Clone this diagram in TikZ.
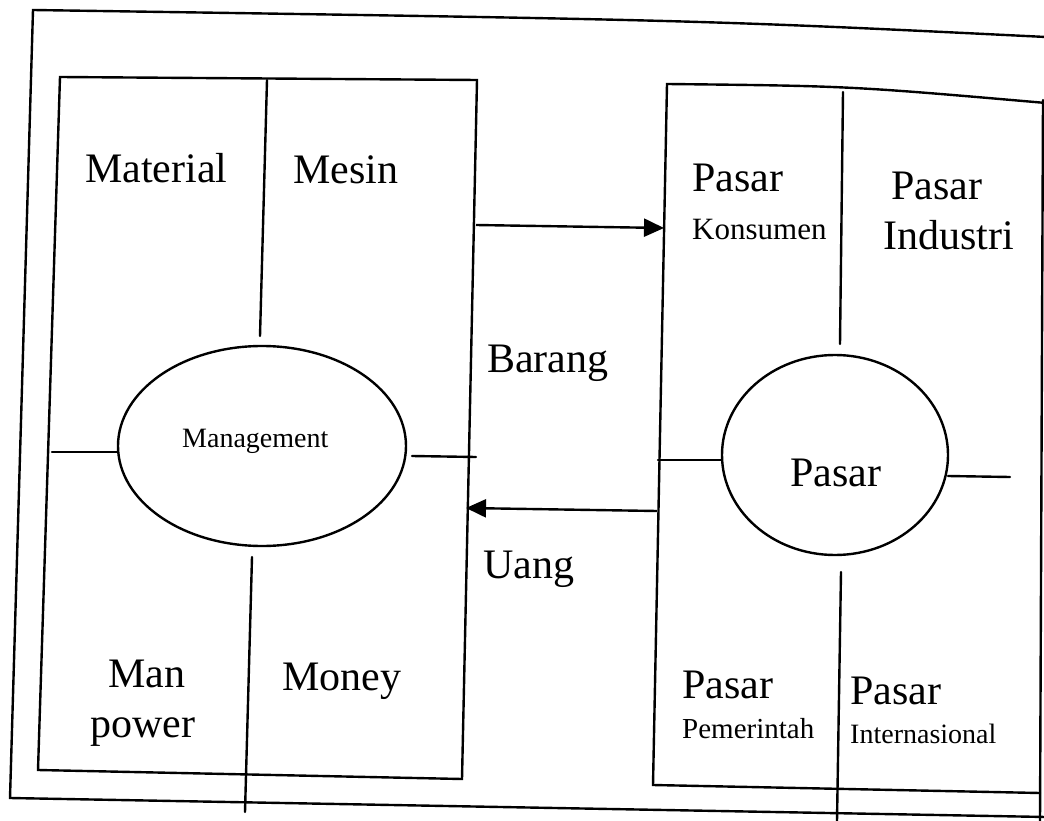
\documentclass[tikz,border=0pt]{standalone}
\usepackage{fontspec}
\setmainfont{Liberation Serif}
\usetikzlibrary{shapes.geometric,arrows.meta}
\begin{document}
\begin{tikzpicture}[x=1pt,y=-1pt,
  ln/.style={line width=2.4pt, line cap=round},
  big/.style={font=\fontsize{42}{44}\selectfont, inner sep=0pt, anchor=base west},
  small/.style={font=\fontsize{29}{31}\selectfont, inner sep=0pt, anchor=base west},
  oval/.style={ellipse, draw, line width=2.4pt, inner sep=0pt},
  arr/.style={line width=2.4pt, -{Triangle[length=20pt,width=18pt]}}
]
\useasboundingbox (0,0) rectangle (1044,821);
% outer frame
\coordinate (o1) at (1046,37);
\coordinate (o2) at (33,10);
\coordinate (o3) at (10,798);
\coordinate (o4) at (1046,817);
\draw[ln] (o1) .. controls (700,20) .. (o2) -- (o3) -- (o4);
% left box
\coordinate (l1) at (60,77);
\coordinate (l2) at (477,80);
\coordinate (l3) at (462,779);
\coordinate (l4) at (38,770);
\draw[ln] (l1) -- (l2) -- (l3) -- (l4) -- cycle;
% right box
\coordinate (r1) at (667,84);
\coordinate (r2) at (1046,103);
\coordinate (r3) at (1040,821);
\coordinate (r5) at (1043,100);
\coordinate (r4) at (653,785);
\coordinate (r6) at (1040,793);
\draw[ln] (r2) .. controls (850,86) .. (r1) -- (r4) -- (r6);
\draw[ln] (r5) -- (r3);
% management ellipse
\node[oval, minimum width=288pt, minimum height=200pt] (mg) at (262,446) {};
\node[small, font=\fontsize{28}{30}\selectfont] (mgt) at (182,447) {Management};
\coordinate (lv1) at (267,80);
\coordinate (lv2) at (260,336);
\coordinate (lv3) at (252,557);
\coordinate (lv4) at (245,812);
\coordinate (lh1) at (52,452);
\coordinate (lh2) at (412,456);
\coordinate (lh3) at (476,457);
\draw[ln] (lv1) -- (lv2);
\draw[ln] (lv3) -- (lv4);
\draw[ln] (lh1) -- (lh1 -| mg.west);
\draw[ln] (lh2) -- (lh3);
% texts left
\node[big] (mat) at (85,183) {Material};
\node[big] (mes) at (293,184) {Mesin};
\node[big] (man) at (108,687) {Man};
\node[big] (pow) at (90,737) {power};
\node[big] (mon) at (282,690) {Money};
% pasar ellipse
\node[oval, minimum width=226pt, minimum height=200pt] (ps) at (835,455) {};
\node[big] (pst) at (790,486) {Pasar};
\coordinate (rv1) at (843,92);
\coordinate (rv2) at (840,344);
\coordinate (rv3) at (841,572);
\coordinate (rv4) at (837,821);
\coordinate (rh1) at (658,460);
\coordinate (rh2) at (948,476);
\coordinate (rh3) at (1010,477);
\draw[ln] (rv1) -- (rv2);
\draw[ln] (rv3) -- (rv4);
\draw[ln] (rh1) -- (rh1 -| ps.west);
\draw[ln] (rh2) -- (rh3);
% texts right
\node[big] (p1) at (692,192) {Pasar};
\node[small, font=\fontsize{31}{33}\selectfont] (k1) at (692,240) {Konsumen};
\node[big] (p2) at (891,200) {Pasar};
\node[big] (i2) at (883,250) {Industri};
\node[big] (p3) at (682,698) {Pasar};
\node[small] (k3) at (682,738) {Pemerintah};
\node[big] (p4) at (850,704) {Pasar};
\node[small, font=\fontsize{28}{30}\selectfont] (k4) at (850,743) {Internasional};
% arrows
\coordinate (a1) at (476,225);
\coordinate (a2) at (664,228);
\coordinate (b1) at (657,511);
\coordinate (b2) at (466,508);
\draw[arr] (a1) -- (a2);
\draw[arr] (b1) -- (b2);
\node[big] (bar) at (487,372) {Barang};
\node[big] (ua) at (483,578) {Uang};
\end{tikzpicture}
\end{document}
